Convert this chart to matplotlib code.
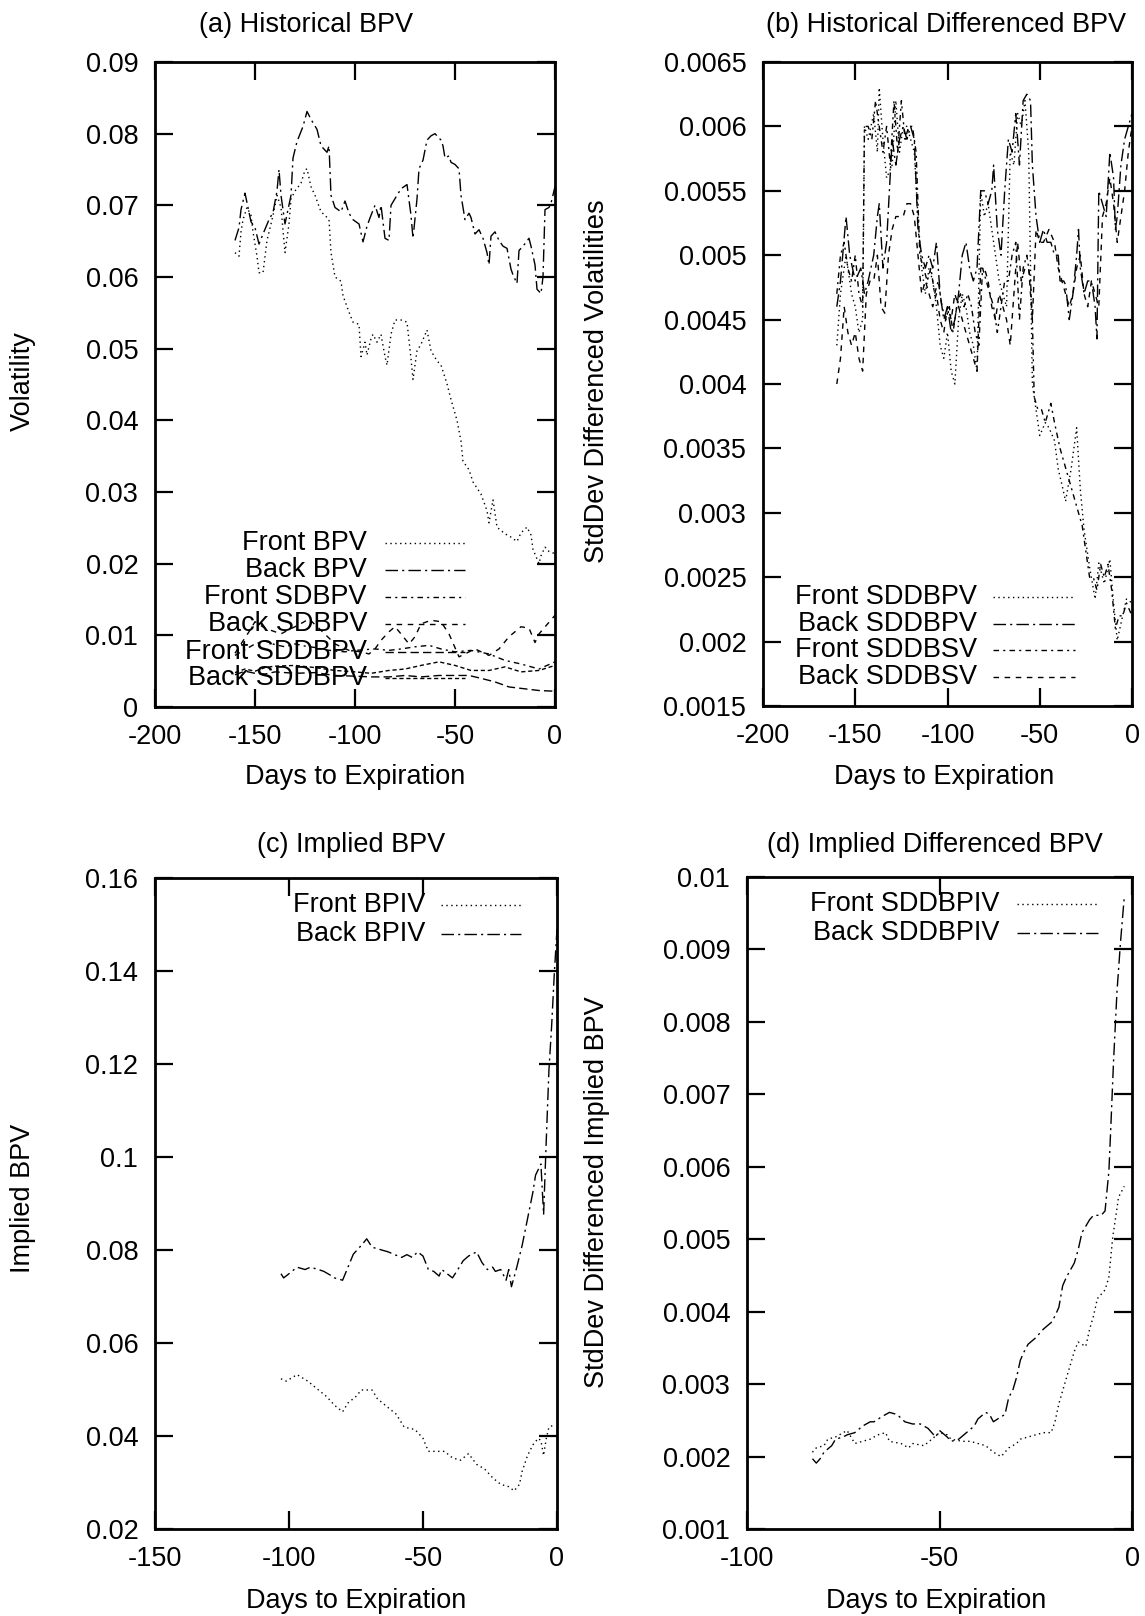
import matplotlib
matplotlib.use("Agg")
import matplotlib.pyplot as plt

plt.rcParams['font.family'] = ['Liberation Sans', 'DejaVu Sans']
plt.rcParams['font.size'] = 19.5

# ---------------- Panel (a) Historical BPV ----------------
a_front_bpv_days = [-160,-158,-157,-156,-154,-152,-151,-149,-148,-146,-144,-142,-141,-139,-137,
                    -135,-133,-132,-130,-127,-125,-124,-122,-120,-117,-115,-113,-112,-110,-107,
                    -106,-103,-101,-98,-97,-95,-94,-92,-91,-89,-87,-85,-84,-82,-80,-77,-74,-72,
                    -71,-69,-67,-64,-62,-59,-57,-54,-52,-49,-47,-46,-43,-41,-37,-34,-33,-31,-29,
                    -27,-24,-22,-19,-17,-14,-12,-11,-8,-7,-5,-3,0]
a_front_bpv = [0.0634,0.0629,0.0663,0.068,0.0697,0.0686,0.0663,0.0629,0.0606,0.0606,0.0651,0.0674,
               0.0686,0.0714,0.0697,0.0634,0.0674,0.0709,0.072,0.0731,0.0749,0.0751,0.0726,0.0714,
               0.0691,0.0686,0.068,0.0634,0.060,0.0594,0.0574,0.0551,0.0537,0.0534,0.0489,0.0509,
               0.0491,0.0514,0.052,0.0509,0.052,0.0489,0.0477,0.052,0.054,0.054,0.0537,0.0486,
               0.0457,0.0497,0.0506,0.0526,0.0497,0.0483,0.0477,0.0451,0.0429,0.040,0.0371,0.0343,
               0.0331,0.0314,0.0297,0.0274,0.0257,0.0289,0.0251,0.0246,0.024,0.0237,0.0231,0.0243,
               0.0251,0.024,0.022,0.020,0.0211,0.0223,0.0217,0.0214]

a_back_bpv_days = [-160,-158,-157,-155,-152,-150,-148,-146,-143,-141,-139,-138,-137,-135,-132,-131,
                   -129,-126,-124,-122,-119,-117,-114,-113,-112,-110,-107,-105,-103,-101,-98,-96,
                   -94,-92,-90,-88,-87,-85,-83,-82,-79,-77,-74,-72,-71,-69,-68,-66,-64,-62,-60,
                   -57,-56,-55,-53,-52,-50,-48,-47,-45,-43,-42,-40,-38,-36,-34,-33,-32,-30,-28,
                   -26,-24,-22,-21,-19,-18,-16,-13,-12,-10,-9,-7,-6,-5,-3,-2,0]
a_back_bpv = [0.0651,0.0669,0.0694,0.0717,0.0677,0.0669,0.0646,0.066,0.068,0.069,
              0.072,0.075,0.0714,0.0674,0.0714,0.0766,0.0789,0.081,0.0831,0.082,
              0.0806,0.0783,0.0774,0.0783,0.0714,0.0697,0.0691,0.0706,0.0689,0.068,
              0.0674,0.0649,0.0671,0.0686,0.070,0.0683,0.070,0.0654,0.0651,0.070,
              0.0714,0.0723,0.0729,0.0686,0.0654,0.0709,0.0751,0.0763,0.0791,0.0797,
              0.080,0.0791,0.0783,0.0766,0.0769,0.076,0.0757,0.0751,0.0714,0.068,
              0.0689,0.0683,0.066,0.0666,0.0654,0.0634,0.0617,0.0657,0.0663,0.0651,
              0.0643,0.064,0.0611,0.0603,0.0591,0.0637,0.0643,0.0654,0.0643,0.0617,
              0.0583,0.0577,0.060,0.0694,0.0697,0.0703,0.0726]

a_front_sdbpv_days = [-160,-155,-150,-145,-140,-135,-130,-125,-120,-115,-110,-105,-100,-95,-90,
                      -83,-77,-70,-63,-57,-50,-42,-33,-25,-17,-8,0]
a_front_sdbpv = [0.0072,0.0080,0.0088,0.0092,0.0087,0.0084,0.0088,0.0085,0.0083,0.0080,0.0078,
                 0.0077,0.0079,0.0080,0.0081,0.0079,0.0081,0.0084,0.0086,0.0081,0.0077,0.0079,
                 0.0074,0.0065,0.0060,0.0053,0.0063]

a_back_sdbpv_days = [-160,-157,-153,-150,-145,-141,-137,-133,-130,-126,-123,-117,-110,-103,-97,
                     -93,-90,-87,-83,-80,-77,-73,-70,-67,-62,-57,-53,-48,-40,-33,-28,-23,-17,
                     -13,-10,-8,0]
a_back_sdbpv = [0.0075,0.0088,0.0105,0.0119,0.0110,0.0106,0.0102,0.0108,0.0112,0.0118,
                0.0123,0.0107,0.0088,0.0079,0.0077,0.0074,0.0081,0.0093,0.0105,0.0112,
                0.0102,0.0088,0.0098,0.0116,0.0121,0.0119,0.0102,0.0070,0.0081,0.0072,
                0.0081,0.0098,0.0112,0.0110,0.0090,0.0102,0.0128]

a_front_sddbpv_days = [-160,-155,-150,-145,-140,-130,-120,-110,-100,-92,-83,-75,-67,-58,-50,
                       -43,-37,-30,-23,-17,-8,0]
a_front_sddbpv = [0.0045,0.0050,0.0047,0.0046,0.0049,0.0047,0.0048,0.0044,0.0043,0.0042,0.0042,
                  0.0044,0.0042,0.0044,0.0044,0.0044,0.0040,0.0035,0.0028,0.0026,0.0023,0.0022]

a_back_sddbpv_days = [-160,-155,-150,-145,-140,-130,-120,-110,-100,-92,-83,-75,-67,-58,-50,
                      -42,-33,-25,-17,-8,0]
a_back_sddbpv = [0.0048,0.0053,0.0050,0.0055,0.0057,0.0058,0.0055,0.0051,0.0049,0.0047,0.0051,
                 0.0053,0.0058,0.0063,0.0058,0.0051,0.0051,0.0056,0.0049,0.0051,0.0058]

# ---------------- Panel (b) Historical Differenced BPV ----------------
b_front_sddbpv_days = [-160,-158,-155,-152,-150,-148,-146,-145,-143,-140,
                       -138,-137,-135,-133,-130,-128,-126,-124,-122,-120,
                       -118,-116,-114,-112,-110,-108,-106,-104,-102,-100,
                       -98,-96,-94,-92,-90,-88,-86,-84,-82,-80,
                       -78,-76,-74,-72,-70,-68,-66,-64,-62,-60,
                       -58,-56,-54,-52,-50,-47,-45,-42,-40,-38,
                       -36,-33,-30,-28,-26,-23,-20,-18,-15,-12,
                       -10,-8,-6,-3,0]
b_front_sddbpv = [0.0043,0.0047,0.0050,0.0047,0.0046,0.0044,0.0045,0.0060,0.0059,0.0061,
                  0.0058,0.0063,0.0059,0.0056,0.0057,0.0062,0.0058,0.0060,0.0060,0.0059,
                  0.0058,0.0053,0.0049,0.0047,0.0049,0.0048,0.0046,0.0043,0.0042,0.0044,
                  0.0041,0.0040,0.0045,0.0047,0.0046,0.0044,0.0043,0.0041,0.0055,0.0053,
                  0.0054,0.0052,0.0050,0.0048,0.0047,0.0046,0.0058,0.0057,0.0061,0.0060,
                  0.0062,0.0058,0.0040,0.0038,0.0036,0.0037,0.00366,0.00356,0.00334,0.00322,
                  0.00309,0.00334,0.00366,0.00318,0.00287,0.00258,0.00233,0.00261,0.00245,0.00264,
                  0.0023,0.00201,0.00214,0.00233,0.0023]

b_back_sddbpv_days = [-160,-158,-155,-153,-150,-147,-145,-143,-140,-138,
                      -137,-135,-133,-130,-128,-126,-124,-122,-120,-118,
                      -116,-114,-112,-110,-108,-106,-104,-102,-100,-98,
                      -96,-94,-92,-90,-88,-86,-84,-82,-80,-78,
                      -76,-75,-73,-71,-69,-67,-65,-63,-61,-59,
                      -57,-55,-54,-52,-50,-48,-46,-44,-42,-40,
                      -39,-37,-36,-34,-32,-30,-29,-28,-26,-24,
                      -22,-20,-19,-18,-16,-14,-12,-10,-9,-8,
                      -6,-4,-2,0]
b_back_sddbpv = [0.0046,0.0048,0.0053,0.0050,0.0048,0.0049,0.0047,0.0048,0.0050,0.0053,
                 0.0054,0.0049,0.0051,0.0059,0.0057,0.0059,0.0060,0.0059,0.0060,0.0059,
                 0.0052,0.0050,0.0049,0.0050,0.0049,0.0051,0.0047,0.0045,0.0046,0.0044,
                 0.0045,0.0047,0.0050,0.0051,0.0049,0.0048,0.0049,0.0055,0.0055,0.0054,
                 0.0055,0.0057,0.0052,0.0050,0.0055,0.0059,0.0058,0.0061,0.0057,0.0062,
                 0.00625,0.0062,0.0057,0.0053,0.0051,0.0052,0.0051,0.0051,0.0050,0.0050,
                 0.0048,0.0048,0.00477,0.0045,0.0047,0.0050,0.0052,0.0049,0.0047,0.0048,
                 0.0048,0.0046,0.00435,0.0055,0.0054,0.0053,0.0058,0.0056,0.0052,0.0053,
                 0.0057,0.0059,0.0060,0.0061]

b_front_sddbsv_days = [-160,-158,-156,-154,-152,-150,-148,-146,-145,-143,
                       -141,-139,-137,-135,-133,-131,-129,-127,-125,-123,
                       -121,-119,-117,-115,-113,-111,-109,-107,-105,-103,
                       -101,-99,-97,-95,-93,-91,-89,-87,-85,-83,
                       -81,-79,-77,-75,-73,-71,-69,-67,-65,-63,
                       -61,-59,-57,-55,-54,-53,-51,-49,-47,-44,
                       -42,-39,-37,-35,-33,-31,-29,-27,-25,-23,
                       -21,-19,-17,-15,-13,-11,-9,-7,-5,-3,0]
b_front_sddbsv = [0.0047,0.0050,0.0051,0.0049,0.0048,0.0050,0.0047,0.0046,0.0060,0.0060,
                  0.0059,0.0062,0.0060,0.0058,0.0060,0.0057,0.0062,0.0058,0.0062,0.0059,
                  0.0060,0.0060,0.0058,0.0050,0.0049,0.0048,0.0049,0.0047,0.0048,0.0046,
                  0.0045,0.0046,0.0044,0.0046,0.0047,0.0046,0.0047,0.0046,0.0044,0.0043,
                  0.0049,0.0048,0.0047,0.0046,0.0044,0.0046,0.0048,0.0048,0.0050,0.0051,
                  0.0045,0.0049,0.0050,0.0048,0.0045,0.0039,0.0038,0.0038,0.0037,0.00385,
                  0.0037,0.0035,0.0034,0.0033,0.0032,0.0031,0.0030,0.0029,0.0027,0.0025,
                  0.0025,0.0024,0.0026,0.0025,0.0026,0.0024,0.0021,0.0022,0.0022,0.0023,0.0022]

b_back_sddbsv_days = [-160,-158,-156,-154,-152,-150,-148,-146,-144,-142,
                      -140,-138,-136,-134,-132,-130,-128,-126,-124,-122,
                      -120,-118,-116,-114,-112,-110,-108,-106,-104,-102,
                      -100,-98,-96,-94,-92,-90,-88,-86,-84,-82,
                      -80,-78,-76,-74,-72,-70,-68,-66,-64,-62,
                      -60,-58,-56,-54,-52,-50,-48,-45,-42,-40,
                      -38,-36,-34,-32,-30,-28,-26,-24,-22,-20,
                      -18,-16,-14,-12,-10,-8,-6,-4,-2,0]
b_back_sddbsv = [0.0040,0.0042,0.0046,0.0044,0.0043,0.0044,0.0042,0.0041,0.0047,0.0048,
                 0.0048,0.0050,0.0046,0.00455,0.0050,0.0052,0.0053,0.0053,0.0053,0.0054,
                 0.0054,0.0053,0.0050,0.0047,0.0048,0.0047,0.0046,0.0047,0.0045,0.0044,
                 0.0046,0.0045,0.0047,0.0046,0.0045,0.0044,0.0043,0.0042,0.0041,0.0049,
                 0.0049,0.0048,0.0046,0.0045,0.0047,0.0046,0.0045,0.0043,0.0047,0.0051,
                 0.0048,0.0049,0.0049,0.0045,0.0052,0.0051,0.0051,0.0052,0.0051,0.0049,
                 0.0048,0.0047,0.0046,0.0047,0.0049,0.0050,0.0047,0.0046,0.0048,0.0047,
                 0.0046,0.0053,0.0054,0.0056,0.0054,0.0051,0.0053,0.0055,0.0058,0.0060]

# ---------------- Panel (c) Implied BPV ----------------
c_back_bpiv_days = [-103,-102,-100,-97,-94,-92,-89,-87,-84,-83,
                    -80,-78,-76,-73,-71,-69,-66,-63,-61,-58,
                    -56,-54,-52,-50,-48,-46,-44,-43,-41,-39,
                    -37,-35,-33,-30,-28,-26,-24,-23,-21,-19,
                    -18,-17,-15,-13,-11,-9,-8,-6,-5,-4,
                    -3,-2,-1,0]
c_back_bpiv = [0.0749,0.0740,0.0749,0.0763,0.0758,0.0763,0.0758,0.0754,0.0744,0.0740,
               0.0735,0.0763,0.0791,0.0810,0.0824,0.0806,0.0801,0.0796,0.0791,0.0784,
               0.0790,0.0784,0.0796,0.0787,0.0758,0.0754,0.0744,0.0758,0.0749,0.0740,
               0.0758,0.0777,0.0787,0.0796,0.0773,0.0758,0.0763,0.0754,0.0758,0.0735,
               0.0758,0.0721,0.0763,0.0810,0.0867,0.0924,0.0961,0.0985,0.0876,0.1037,
               0.1188,0.1282,0.1395,0.149]

c_front_bpiv_days = [-103,-101,-97,-93,-89,-86,-83,-80,-78,-75,
                     -73,-69,-67,-63,-60,-57,-53,-50,-48,-45,
                     -42,-39,-36,-33,-30,-27,-24,-21,-18,-16,
                     -14,-13,-11,-9,-7,-6,-5,-4,-3,-1]
c_front_bpiv = [0.0523,0.0518,0.0532,0.0518,0.0499,0.0485,0.0466,0.0452,0.0471,0.0485,
                0.0499,0.0499,0.0480,0.0461,0.0447,0.0419,0.0414,0.0395,0.0367,0.0367,
                0.0367,0.0353,0.0348,0.0362,0.0339,0.0329,0.0310,0.0296,0.0291,0.0282,
                0.0296,0.0324,0.0358,0.0381,0.0395,0.0390,0.0358,0.0395,0.0419,0.0424]

# ---------------- Panel (d) Implied Differenced BPV ----------------
d_back_days = [-83,-82,-81,-80,-78,-77,-75,-74,-72,-70,
               -68,-67,-65,-63,-61,-59,-57,-55,-53,-51,
               -50,-48,-47,-45,-43,-41,-40,-38,-37,-36,
               -34,-33,-32,-31,-30,-29,-28,-27,-25,-23,
               -21,-20,-19,-18,-17,-15,-14,-13,-11,-10,
               -8,-7,-6,-5.5,-4.8,-3.9,-3,-2]
d_back = [0.00197,0.00191,0.00197,0.00206,0.00215,0.00224,0.00227,0.0023,0.00233,0.00242,
          0.00248,0.00248,0.00255,0.00261,0.00258,0.00248,0.00245,0.00245,0.00239,0.00227,
          0.00236,0.00227,0.00221,0.00224,0.00233,0.00242,0.00252,0.00261,0.00258,0.00248,
          0.00255,0.00258,0.00282,0.00291,0.00309,0.00333,0.00345,0.00355,0.00364,0.00376,
          0.00385,0.00394,0.00406,0.00436,0.00448,0.00467,0.00485,0.00509,0.00527,0.00533,
          0.00533,0.00539,0.00594,0.00655,0.00745,0.00842,0.00909,0.00973]

d_front_days = [-83,-82,-80,-79,-77,-75,-74,-72,-70,-68,
                -66,-64,-63,-60,-58,-57,-54,-52,-50,-48,
                -47,-44,-42,-40,-38,-36,-34,-32,-30,-29,
                -27,-25,-23,-21,-20,-19,-17,-16,-15,-14,
                -12,-11,-10,-9,-7,-6,-5,-4,-3.5,-2]
d_front = [0.00206,0.00212,0.00215,0.00224,0.00227,0.00233,0.00236,0.00218,0.00221,0.00224,
           0.0023,0.00233,0.00221,0.00218,0.00212,0.00218,0.00215,0.00224,0.00233,0.0023,
           0.00224,0.00221,0.00221,0.00218,0.00215,0.00206,0.0020,0.00212,0.00218,0.00224,
           0.00227,0.0023,0.00233,0.00233,0.00248,0.00273,0.00309,0.00327,0.00345,0.00358,
           0.00352,0.00376,0.00394,0.00418,0.0043,0.00448,0.00503,0.00539,0.00558,0.00573]

# tick labels
a_xticks = [-200, -150, -100, -50, 0]
a_yticks = [0, 0.01, 0.02, 0.03, 0.04, 0.05, 0.06, 0.07, 0.08, 0.09]
a_ylabels = ["0", "0.01", "0.02", "0.03", "0.04", "0.05", "0.06", "0.07", "0.08", "0.09"]
b_yticks = [0.0015, 0.002, 0.0025, 0.003, 0.0035, 0.004, 0.0045, 0.005, 0.0055, 0.006, 0.0065]
b_ylabels = ["0.0015", "0.002", "0.0025", "0.003", "0.0035", "0.004", "0.0045", "0.005",
             "0.0055", "0.006", "0.0065"]
c_xticks = [-150, -100, -50, 0]
c_yticks = [0.02, 0.04, 0.06, 0.08, 0.1, 0.12, 0.14, 0.16]
c_ylabels = ["0.02", "0.04", "0.06", "0.08", "0.1", "0.12", "0.14", "0.16"]
d_xticks = [-100, -50, 0]
d_yticks = [0.001, 0.002, 0.003, 0.004, 0.005, 0.006, 0.007, 0.008, 0.009, 0.01]
d_ylabels = ["0.001", "0.002", "0.003", "0.004", "0.005", "0.006", "0.007", "0.008", "0.009", "0.01"]

# line styles (gnuplot monochrome look)
DOT = (0, (1, 2.5))
LDD = (0, (9, 3, 1.5, 3))
SDD = (0, (4, 3, 1.5, 3))
DSH = (0, (4, 4))
DS2 = (0, (6, 3))
DS3 = (0, (3, 2))
LW = 1.0

W, H = 1145, 1616
fig = plt.figure(figsize=(W / 100, H / 100), dpi=100)


def make_ax(l, t, r, b):
    ax = fig.add_axes([l / W, 1 - b / H, (r - l) / W, (b - t) / H])
    for s in ax.spines.values():
        s.set_linewidth(2.0)
    ax.tick_params(direction='in', length=13, width=1.6, top=True, right=True,
                   labelsize=19.5, pad=12)
    return ax


def key(ax, entries, xt, x0, x1, ys):
    for (lab, ls), y in zip(entries, ys):
        ax.text(xt, y, lab, transform=ax.transAxes, ha='right', va='center', fontsize=19.5)
        ax.plot([x0, x1], [y, y], transform=ax.transAxes, color='black', lw=LW, linestyle=ls)


# (a)
axa = make_ax(155, 62, 555, 707)
axa.plot(a_front_bpv_days, a_front_bpv, color='black', lw=LW, linestyle=DOT)
axa.plot(a_back_bpv_days, a_back_bpv, color='black', lw=LW, linestyle=LDD)
axa.plot(a_front_sdbpv_days, a_front_sdbpv, color='black', lw=LW, linestyle=SDD)
axa.plot(a_back_sdbpv_days, a_back_sdbpv, color='black', lw=LW, linestyle=DSH)
axa.plot(a_front_sddbpv_days, a_front_sddbpv, color='black', lw=LW, linestyle=DS2)
axa.plot(a_back_sddbpv_days, a_back_sddbpv, color='black', lw=LW, linestyle=DS3)
axa.set_xlim(-200, 0)
axa.set_ylim(0, 0.09)
axa.set_xticks(a_xticks)
axa.set_xticklabels([str(v) for v in a_xticks])
axa.set_yticks(a_yticks)
axa.set_yticklabels(a_ylabels)
key(axa, [("Front BPV", DOT), ("Back BPV", LDD), ("Front SDBPV", SDD),
          ("Back SDBPV", DSH), ("Front SDDBPV", DS2), ("Back SDDBPV", DS3)],
    0.53, 0.575, 0.775, [0.254, 0.212, 0.171, 0.128, 0.086, 0.045])

# (b)
axb = make_ax(763, 62, 1132, 706)
axb.plot(b_front_sddbpv_days, b_front_sddbpv, color='black', lw=LW, linestyle=DOT)
axb.plot(b_back_sddbpv_days, b_back_sddbpv, color='black', lw=LW, linestyle=LDD)
axb.plot(b_front_sddbsv_days, b_front_sddbsv, color='black', lw=LW, linestyle=SDD)
axb.plot(b_back_sddbsv_days, b_back_sddbsv, color='black', lw=LW, linestyle=DSH)
axb.set_xlim(-200, 0)
axb.set_ylim(0.0015, 0.0065)
axb.set_xticks(a_xticks)
axb.set_xticklabels([str(v) for v in a_xticks])
axb.set_yticks(b_yticks)
axb.set_yticklabels(b_ylabels)
key(axb, [("Front SDDBPV", DOT), ("Back SDDBPV", LDD), ("Front SDDBSV", SDD),
          ("Back SDDBSV", DSH)],
    0.58, 0.624, 0.846, [0.169, 0.128, 0.087, 0.045])

# (c)
axc = make_ax(155, 878, 557, 1529)
axc.plot(c_front_bpiv_days, c_front_bpiv, color='black', lw=LW, linestyle=DOT)
axc.plot(c_back_bpiv_days, c_back_bpiv, color='black', lw=LW, linestyle=LDD)
axc.set_xlim(-150, 0)
axc.set_ylim(0.02, 0.16)
axc.set_xticks(c_xticks)
axc.set_xticklabels([str(v) for v in c_xticks])
axc.set_yticks(c_yticks)
axc.set_yticklabels(c_ylabels)
key(axc, [("Front BPIV", DOT), ("Back BPIV", LDD)], 0.672, 0.712, 0.91, [0.958, 0.914])

# (d)
axd = make_ax(747, 877, 1132, 1529)
axd.plot(d_front_days, d_front, color='black', lw=LW, linestyle=DOT)
axd.plot(d_back_days, d_back, color='black', lw=LW, linestyle=LDD)
axd.set_xlim(-100, 0)
axd.set_ylim(0.001, 0.01)
axd.set_xticks(d_xticks)
axd.set_xticklabels([str(v) for v in d_xticks])
axd.set_yticks(d_yticks)
axd.set_yticklabels(d_ylabels)
key(axd, [("Front SDDBPIV", DOT), ("Back SDDBPIV", LDD)], 0.657, 0.701, 0.912, [0.958, 0.914])

# titles and axis labels
fs = 19.5
fig.text(306 / W, 1 - 25 / H, "(a) Historical BPV", ha='center', va='center', fontsize=fs)
fig.text(946 / W, 1 - 25 / H, "(b) Historical Differenced BPV", ha='center', va='center', fontsize=fs)
fig.text(351 / W, 1 - 845 / H, "(c) Implied BPV", ha='center', va='center', fontsize=fs)
fig.text(935 / W, 1 - 845 / H, "(d) Implied Differenced BPV", ha='center', va='center', fontsize=fs)

fig.text(355 / W, 1 - 777 / H, "Days to Expiration", ha='center', va='center', fontsize=fs)
fig.text(944 / W, 1 - 777 / H, "Days to Expiration", ha='center', va='center', fontsize=fs)
fig.text(356 / W, 1 - 1601 / H, "Days to Expiration", ha='center', va='center', fontsize=fs)
fig.text(936 / W, 1 - 1601 / H, "Days to Expiration", ha='center', va='center', fontsize=fs)

fig.text(23 / W, 1 - 381 / H, "Volatility", ha='center', va='center', rotation=90, fontsize=fs)
fig.text(597 / W, 1 - 381 / H, "StdDev Differenced Volatilities", ha='center', va='center',
         rotation=90, fontsize=fs)
fig.text(23 / W, 1 - 1198 / H, "Implied BPV", ha='center', va='center', rotation=90, fontsize=fs)
fig.text(597 / W, 1 - 1192 / H, "StdDev Differenced Implied BPV", ha='center', va='center',
         rotation=90, fontsize=fs)

fig.savefig("out.png", dpi=100, facecolor='white')
